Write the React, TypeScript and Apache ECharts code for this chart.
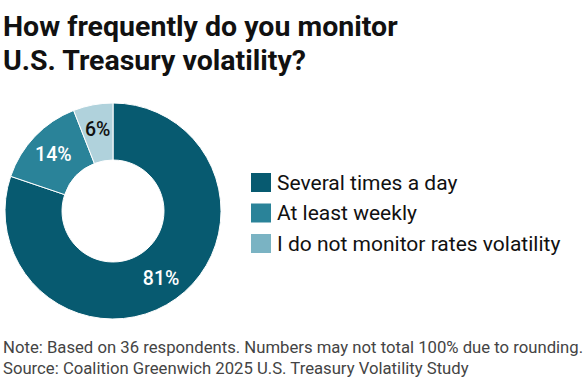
import React, { useEffect, useRef } from "react";
import * as echarts from "echarts";

const categories = ["Several times a day", "At least weekly", "I do not monitor rates volatility"];
const values = [81, 14, 6];
const sliceColors = ["#075a70", "#2a8399", "#b0d2dc"];
const legendColors = ["#075a70", "#2a8399", "#7ab3c3"];
const labelColors = ["#ffffff", "#ffffff", "#111111"];

const titleText = "How frequently do you monitor\nU.S. Treasury volatility?";
const noteText =
  "Note: Based on 36 respondents. Numbers may not total 100% due to rounding.\nSource: Coalition Greenwich 2025 U.S. Treasury Volatility Study";

export default function App() {
  const ref = useRef<HTMLDivElement>(null);
  useEffect(() => {
    if (!ref.current) return;
    const chart = echarts.init(ref.current, null, { renderer: "svg" });
    chart.setOption({
      animation: false,
      backgroundColor: "#ffffff",
      title: [
        {
          text: titleText,
          left: 3,
          top: 9,
          padding: 0,
          textStyle: {
            fontFamily: "Roboto",
            fontWeight: "bold",
            fontSize: 28.5,
            lineHeight: 34,
            color: "#111111",
          },
        },
        {
          text: noteText,
          left: 3,
          top: 337,
          padding: 0,
          textStyle: {
            fontFamily: "Roboto",
            fontWeight: "normal",
            fontSize: 16.7,
            lineHeight: 21,
            color: "#444444",
          },
        },
      ],
      legend: {
        orient: "vertical",
        left: 249,
        top: 171,
        padding: 0,
        itemWidth: 22,
        itemHeight: 21,
        itemGap: 7.5,
        icon: "rect",
        textStyle: { fontFamily: "Roboto", fontSize: 21, lineHeight: 21, color: "#111111" },
        data: categories.map((c, i) => ({ name: c, itemStyle: { color: legendColors[i] } })),
      },
      series: [
        {
          type: "pie",
          center: [113, 211],
          radius: [51, 108],
          startAngle: 90,
          clockwise: true,
          avoidLabelOverlap: false,
          itemStyle: { borderColor: "#ffffff", borderWidth: 1 },
          label: {
            show: true,
            position: "inside",
            formatter: "{c}%",
            fontFamily: "Roboto",
            fontWeight: 500,
            fontSize: 19.5,
          },
          labelLine: { show: false },
          data: categories.map((c, i) => ({
            name: c,
            value: values[i],
            itemStyle: { color: sliceColors[i] },
            label: { color: labelColors[i] },
          })),
        },
      ],
    });
    return () => chart.dispose();
  }, []);
  return <div ref={ref} style={{ width: 586, height: 391, position: "absolute", left: 0, top: 0 }} />;
}
